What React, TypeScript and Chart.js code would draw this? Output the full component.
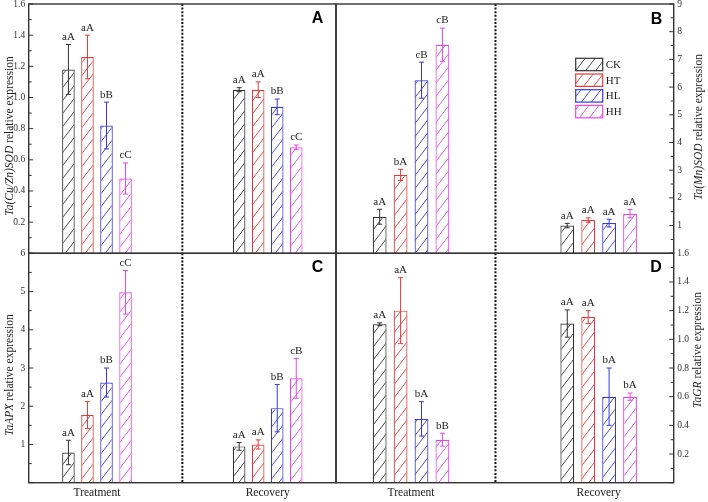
import React, { useEffect, useRef } from 'react';
import { Chart, registerables } from 'chart.js';

Chart.register(...registerables);

// ---------- data ----------
const series = ['CK', 'HT', 'HL', 'HH'];
const categories = ['Treatment', 'Recovery'];
const slotCount = 10;
const slotIndex = [2, 7];

// Panel A: Ta(Cu/Zn)SOD — per series [Treatment, Recovery]
const aMeans = [[1.18, 1.05], [1.26, 1.05], [0.82, 0.94], [0.48, 0.68]];
const aErrs = [[0.16, 0.013], [0.14, 0.05], [0.15, 0.05], [0.1, 0.015]];
const aLetters = [['aA', 'aA'], ['aA', 'aA'], ['bB', 'bB'], ['cC', 'cC']];

// Panel B: Ta(Mn)SOD
const bMeans = [[1.32, 1.0], [2.83, 1.2], [6.25, 1.09], [7.53, 1.43]];
const bErrs = [[0.27, 0.08], [0.2, 0.08], [0.65, 0.14], [0.6, 0.15]];
const bLetters = [['aA', 'aA'], ['bA', 'aA'], ['cB', 'aA'], ['cB', 'aA']];

// Panel C: TaAPX
const cMeans = [[0.79, 0.95], [1.77, 1.0], [2.62, 1.95], [4.98, 2.73]];
const cErrs = [[0.32, 0.1], [0.35, 0.12], [0.38, 0.62], [0.57, 0.52]];
const cLetters = [['aA', 'aA'], ['aA', 'aA'], ['bB', 'bB'], ['cC', 'cB']];

// Panel D: TaGR
const dMeans = [[1.105, 1.11], [1.2, 1.155], [0.445, 0.6], [0.3, 0.6]];
const dErrs = [[0.01, 0.095], [0.23, 0.045], [0.12, 0.2], [0.045, 0.025]];
const dLetters = [['aA', 'aA'], ['aA', 'aA'], ['bA', 'bA'], ['bB', 'bA']];

// ---------- styles ----------
const seriesColors = ['#333333', '#e63a3a', '#3838e0', '#ea45ea'];
const SERIF = '"Liberation Serif", "DejaVu Serif", serif';
const SANS = '"Liberation Sans", Arial, sans-serif';
const W = 708;
const H = 502;

type PanelCfg = {
  key: string;
  box: [number, number, number, number];
  side: 'left' | 'right';
  yMax: number;
  step: number;
  decimals: number;
  means: number[][];
  errs: number[][];
  letters: string[][];
  divider: number;
  titleItalic: string;
  titleRest: string;
  titlePos: [number, number];
  letterPos: [number, number];
  showX: boolean;
  showLegend: boolean;
};

const panels: PanelCfg[] = [
  {
    key: 'A', box: [28.7, 4, 336, 253.3], side: 'left', yMax: 1.6, step: 0.2, decimals: 1,
    means: aMeans, errs: aErrs, letters: aLetters, divider: 4.5,
    titleItalic: 'Ta(Cu/Zn)SOD', titleRest: ' relative expression', titlePos: [10, 136],
    letterPos: [317.5, 19], showX: false, showLegend: false,
  },
  {
    key: 'B', box: [336, 4, 673.7, 253.3], side: 'right', yMax: 9, step: 1, decimals: 0,
    means: bMeans, errs: bErrs, letters: bLetters, divider: 4.25,
    titleItalic: 'Ta(Mn)SOD', titleRest: ' relative expression', titlePos: [699, 127],
    letterPos: [656.5, 20], showX: false, showLegend: true,
  },
  {
    key: 'C', box: [28.7, 253.3, 336, 482.7], side: 'left', yMax: 6, step: 1, decimals: 0,
    means: cMeans, errs: cErrs, letters: cLetters, divider: 4.5,
    titleItalic: 'TaAPX', titleRest: ' relative expression', titlePos: [10, 375],
    letterPos: [317.5, 268], showX: true, showLegend: false,
  },
  {
    key: 'D', box: [336, 253.3, 673.7, 482.7], side: 'right', yMax: 1.6, step: 0.2, decimals: 1,
    means: dMeans, errs: dErrs, letters: dLetters, divider: 4.25,
    titleItalic: 'TaGR', titleRest: ' relative expression', titlePos: [698, 350],
    letterPos: [656, 268], showX: true, showLegend: false,
  },
];

function makeHatch(color: string): CanvasPattern | string {
  const w = 10;
  const h = 13;
  const c = document.createElement('canvas');
  c.width = w;
  c.height = h;
  const g = c.getContext('2d');
  if (!g) return '#fff';
  g.fillStyle = '#ffffff';
  g.fillRect(0, 0, w, h);
  g.strokeStyle = color;
  g.lineWidth = 0.9;
  g.beginPath();
  g.moveTo(-w, 2 * h);
  g.lineTo(2 * w, -h);
  g.stroke();
  const p = g.createPattern(c, 'repeat');
  return p || '#fff';
}

function slotData(vals: number[]): (number | null)[] {
  const arr: (number | null)[] = new Array(slotCount).fill(null);
  slotIndex.forEach((si, i) => { arr[si] = vals[i]; });
  return arr;
}

function slotLabels(): string[] {
  const arr: string[] = new Array(slotCount).fill('');
  slotIndex.forEach((si, i) => { arr[si] = categories[i]; });
  return arr;
}

function PanelChart({ cfg }: { cfg: PanelCfg }) {
  const ref = useRef<HTMLCanvasElement | null>(null);
  useEffect(() => {
    const canvas = ref.current;
    if (!canvas) return;
    const patterns = seriesColors.map((c) => makeHatch(c));

    const decoPlugin = {
      id: 'deco' + cfg.key,
      afterDatasetsDraw(chart: any) {
        const ctx: CanvasRenderingContext2D = chart.ctx;
        const ys = chart.scales.y;
        const xs = chart.scales.x;
        const area = chart.chartArea;
        ctx.save();
        // error bars and letters
        chart.data.datasets.forEach((ds: any, di: number) => {
          const meta = chart.getDatasetMeta(di);
          slotIndex.forEach((si, ci) => {
            const el = meta.data[si];
            if (!el) return;
            const m = cfg.means[di][ci];
            const e = cfg.errs[di][ci];
            const x = el.x;
            const yTop = ys.getPixelForValue(m + e);
            const yBot = ys.getPixelForValue(Math.max(0, m - e));
            ctx.strokeStyle = seriesColors[di];
            ctx.lineWidth = 1;
            ctx.beginPath();
            ctx.moveTo(x, yTop);
            ctx.lineTo(x, yBot);
            ctx.moveTo(x - 2.5, yTop);
            ctx.lineTo(x + 2.5, yTop);
            ctx.moveTo(x - 2.5, yBot);
            ctx.lineTo(x + 2.5, yBot);
            ctx.stroke();
            ctx.fillStyle = '#222';
            ctx.font = '11px ' + SERIF;
            ctx.textAlign = 'center';
            ctx.textBaseline = 'bottom';
            ctx.fillText(cfg.letters[di][ci], x, yTop - 2);
          });
        });
        // divider
        const dx = xs.getPixelForValue(cfg.divider);
        ctx.strokeStyle = '#111';
        ctx.lineWidth = 2;
        ctx.setLineDash([2, 1.6]);
        ctx.beginPath();
        ctx.moveTo(dx, area.top);
        ctx.lineTo(dx, area.bottom);
        ctx.stroke();
        ctx.setLineDash([]);
        // frame
        ctx.strokeStyle = '#333';
        ctx.lineWidth = 1.4;
        ctx.strokeRect(area.left, area.top, area.right - area.left, area.bottom - area.top);
        // y ticks
        const ticks: number[] = ys.ticks.map((t: any) => t.value);
        const axisX = cfg.side === 'left' ? area.left : area.right;
        const dir = cfg.side === 'left' ? 1 : -1;
        ctx.strokeStyle = '#333';
        ctx.lineWidth = 1;
        ctx.beginPath();
        ticks.forEach((v, i) => {
          const y = ys.getPixelForValue(v);
          ctx.moveTo(axisX, y);
          ctx.lineTo(axisX + dir * 4.5, y);
          if (i > 0) {
            const ym = ys.getPixelForValue((v + ticks[i - 1]) / 2);
            ctx.moveTo(axisX, ym);
            ctx.lineTo(axisX + dir * 3, ym);
          }
        });
        ctx.stroke();
        ctx.fillStyle = '#333';
        ctx.font = '9.5px ' + SERIF;
        ctx.textBaseline = 'middle';
        ctx.textAlign = cfg.side === 'left' ? 'right' : 'left';
        ticks.forEach((v) => {
          if (v <= 1e-9) return;
          const y = ys.getPixelForValue(v);
          ctx.fillText(v.toFixed(cfg.decimals), axisX - dir * 3.5, y);
        });
        // x category labels
        if (cfg.showX) {
          ctx.fillStyle = '#222';
          ctx.font = '11.5px ' + SERIF;
          ctx.textAlign = 'center';
          ctx.textBaseline = 'middle';
          slotIndex.forEach((si) => {
            ctx.fillText(chart.data.labels[si], xs.getPixelForValue(si), 493);
          });
        }
        // panel letter
        ctx.fillStyle = '#000';
        ctx.font = 'bold 16px ' + SANS;
        ctx.textAlign = 'center';
        ctx.textBaseline = 'middle';
        ctx.fillText(cfg.key, cfg.letterPos[0], cfg.letterPos[1]);
        // axis title
        ctx.save();
        ctx.translate(cfg.titlePos[0], cfg.titlePos[1]);
        ctx.rotate(-Math.PI / 2);
        const fi = 'italic 11.5px ' + SERIF;
        const fr = '11.5px ' + SERIF;
        ctx.font = fi;
        const w1 = ctx.measureText(cfg.titleItalic).width;
        ctx.font = fr;
        const w2 = ctx.measureText(cfg.titleRest).width;
        const start = -(w1 + w2) / 2;
        ctx.fillStyle = '#222';
        ctx.textAlign = 'left';
        ctx.textBaseline = 'middle';
        ctx.font = fi;
        ctx.fillText(cfg.titleItalic, start, 0);
        ctx.font = fr;
        ctx.fillText(cfg.titleRest, start + w1, 0);
        ctx.restore();
        // legend
        if (cfg.showLegend) {
          const lx = 575.7;
          const ly = 58.3;
          const bw = 27;
          const bh = 12.4;
          const stepY = 15.7;
          series.forEach((s, i) => {
            const y = ly + i * stepY;
            ctx.fillStyle = patterns[i] as any;
            ctx.fillRect(lx, y, bw, bh);
            ctx.strokeStyle = seriesColors[i];
            ctx.lineWidth = 1.2;
            ctx.strokeRect(lx, y, bw, bh);
            ctx.fillStyle = '#222';
            ctx.font = '11px ' + SERIF;
            ctx.textAlign = 'left';
            ctx.textBaseline = 'middle';
            ctx.fillText(s, lx + bw + 3, y + bh / 2 + 0.5);
          });
        }
        ctx.restore();
      },
    };

    const chart = new Chart(canvas, {
      type: 'bar',
      data: {
        labels: slotLabels(),
        datasets: series.map((s, si) => ({
          label: s,
          data: slotData(cfg.means[si]),
          backgroundColor: patterns[si] as any,
          borderColor: seriesColors[si],
          borderWidth: 1.2,
          categoryPercentage: 2.23,
          barPercentage: 0.66,
        })),
      },
      options: {
        responsive: false,
        maintainAspectRatio: false,
        animation: false,
        devicePixelRatio: 1,
        layout: {
          padding: {
            left: cfg.box[0],
            top: cfg.box[1],
            right: W - cfg.box[2],
            bottom: H - cfg.box[3],
          },
        },
        plugins: {
          legend: { display: false },
          tooltip: { enabled: false },
        },
        scales: {
          x: {
            type: 'category',
            display: false,
            offset: false,
            grid: { offset: false },
            ticks: { autoSkip: false },
          },
          y: {
            display: false,
            min: 0,
            max: cfg.yMax,
            ticks: { stepSize: cfg.step },
          },
        },
      },
      plugins: [decoPlugin],
    } as any);
    return () => chart.destroy();
  }, [cfg]);

  return (
    <canvas
      ref={ref}
      width={W}
      height={H}
      style={{ position: 'absolute', left: 0, top: 0, width: W, height: H }}
    />
  );
}

export default function App() {
  return (
    <div style={{ position: 'absolute', left: 0, top: 0, width: W, height: H, background: '#fff', overflow: 'hidden' }}>
      {panels.map((p) => (
        <PanelChart key={p.key} cfg={p} />
      ))}
    </div>
  );
}
